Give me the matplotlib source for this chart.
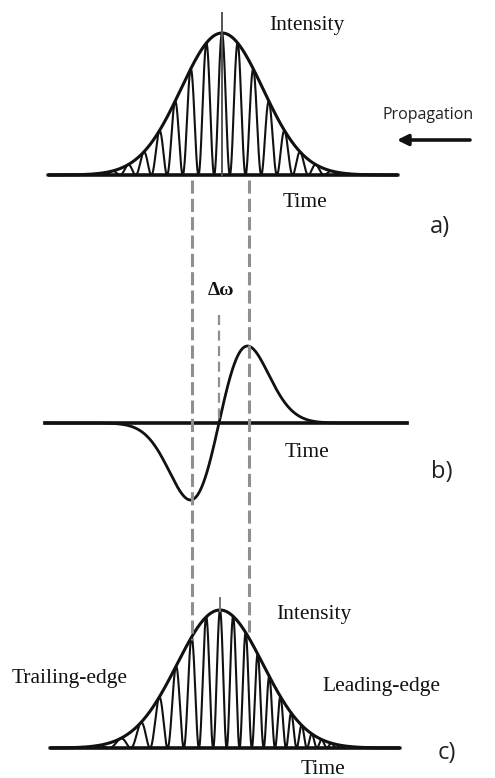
import numpy as np
import matplotlib
matplotlib.use("Agg")
import matplotlib.pyplot as plt

# ---- schematic parameters (pixel units, y grows downwards) ----
panels = ["a)", "b)", "c)"]
baseline_y = [175, 423, 748]
baseline_x0 = [48, 45, 50]
baseline_x1 = [398, 407, 400]
pulse_center = [222, 219, 220]
pulse_height = [142, 77, 138]
pulse_sigma = [41, 28.5, 43]
fringe_period = [15.7, 13.5]     # carrier period in a) and c) (at centre)
chirp = 1.4e-4                    # linear chirp used for c)
dashed_x = [192, 249]
dashed_top = [180, 180]
dashed_bottom = [640, 632]
delta_x = 219
delta_top = 315

serif = "Liberation Serif"
sans = "Open Sans"
ink = "#111111"
dash_col = "#8f8f8f"

fig = plt.figure(figsize=(4.95, 7.78), dpi=100)
ax = fig.add_axes([0, 0, 1, 1])
ax.set_xlim(0, 495)
ax.set_ylim(778, 0)
ax.axis("off")


def draw_pulse(i, period, k=0.0):
    x0, h, s, y0 = pulse_center[i], pulse_height[i], pulse_sigma[i], baseline_y[i]
    x = np.linspace(baseline_x0[i], baseline_x1[i], 6000)
    env = h * np.exp(-(x - x0) ** 2 / (2 * s ** 2))
    phase = 2 * np.pi * ((x - x0) / period + k * (x - x0) ** 2)
    ax.plot(x, y0 - env * np.cos(phase / 2) ** 2, color=ink, lw=1.5)
    ax.plot(x, y0 - env, color=ink, lw=2.2)
    ax.plot([baseline_x0[i], baseline_x1[i]], [y0, y0], color=ink, lw=2.6,
            solid_capstyle="butt")


# a) input pulse
draw_pulse(0, fringe_period[0])
ax.plot([pulse_center[0]] * 2, [13, baseline_y[0]], color="#555555", lw=1.4)

# b) frequency shift (derivative of the intensity)
xb = np.linspace(baseline_x0[1], baseline_x1[1], 2000)
u = (xb - pulse_center[1]) / pulse_sigma[1]
yb = baseline_y[1] - pulse_height[1] * u * np.exp(0.5 * (1 - u ** 2))
ax.plot([baseline_x0[1], baseline_x1[1]], [baseline_y[1]] * 2, color=ink, lw=2.6)
ax.plot(xb, yb, color=ink, lw=2.0)

# c) chirped pulse
draw_pulse(2, fringe_period[1], chirp)
ax.plot([pulse_center[2]] * 2, [598, 611], color="#777777", lw=1.4)

# dashed guide lines
for xd, t, b in zip(dashed_x, dashed_top, dashed_bottom):
    ax.plot([xd, xd], [t, b], color=dash_col, lw=2.2, ls=(0, (4.3, 1.7)))
ax.plot([delta_x, delta_x], [delta_top, baseline_y[1]], color=dash_col, lw=1.6,
        ls=(0, (4.5, 2.5)))

# labels
ax.text(307, 25, "Intensity", family=serif, size=15.5, color=ink, ha="center", va="center")
ax.text(305, 202, "Time", family=serif, size=15.5, color=ink, ha="center", va="center")
ax.text(382, 115, "Propagation", family=sans, size=11.5, color="#222222", ha="left", va="center")
ax.annotate("", xy=(397, 140), xytext=(470, 140),
            arrowprops=dict(arrowstyle="-|>", color=ink, lw=2.6, mutation_scale=16,
                            shrinkA=0, shrinkB=0))
ax.text(221, 290, "\u0394\u03c9", family=serif, size=14, weight="bold", color=ink,
        ha="center", va="center")
ax.text(307, 452, "Time", family=serif, size=15.5, color=ink, ha="center", va="center")
ax.text(314, 615, "Intensity", family=serif, size=15.5, color=ink, ha="center", va="center")
ax.text(70, 678, "Trailing-edge", family=serif, size=15.5, color=ink, ha="center", va="center")
ax.text(381, 687, "Leading-edge", family=serif, size=15.5, color=ink, ha="center", va="center")
ax.text(323, 770, "Time", family=serif, size=15.5, color=ink, ha="center", va="center")

label_pos = [(440, 227), (442, 472), (447, 753)]
for lab, (lx, ly) in zip(panels, label_pos):
    ax.text(lx, ly, lab, family=sans, size=17, color="#222222", ha="center", va="center")

fig.savefig("out.png", dpi=100, facecolor="white")
